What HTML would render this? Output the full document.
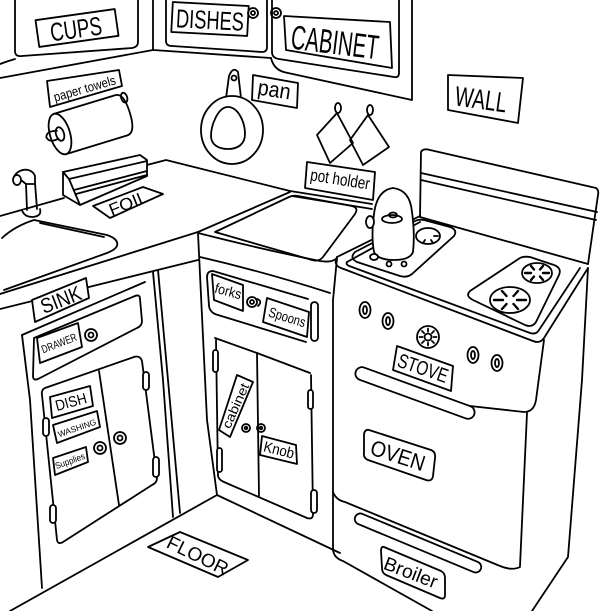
<!DOCTYPE html>
<html><head><meta charset="utf-8"><style>
html,body{margin:0;padding:0;background:#fff;}
svg{display:block;}
text{font-family:"Liberation Sans",sans-serif;fill:#000;stroke:none;}
</style></head><body>
<svg width="600" height="611" viewBox="0 0 600 611" xmlns="http://www.w3.org/2000/svg">
<rect width="600" height="611" fill="#fff"/>
<g fill="none" stroke="#000" stroke-width="1.8" stroke-linecap="round" stroke-linejoin="round">

<!-- wall cabinets -->
<path d="M15,0 L15,51 Q15,57 22,56 L132,48 Q138,47 138,42 L138,0"/>
<path d="M0,64 Q8,61 15,59"/>
<path d="M0,78 L153,50"/>
<path d="M153,0 L153,50"/>
<path d="M166,0 L166,41 Q166,46 172,46 L262,52 Q267,52 267,47 L267,0"/>
<path d="M153,50 L271,58"/>
<path d="M272,0 L272,52 Q272,58 279,59 L394,77 Q399,78 399,73 L399,0"/>
<path d="M271,58 Q274,71 288,73 L412,100 L412,0"/>
<circle cx="253" cy="13" r="5"/><circle cx="253" cy="13" r="2"/>
<circle cx="276" cy="13" r="5"/><circle cx="276" cy="13" r="2"/>

<!-- labels top -->
<rect x="-40" y="-13.5" width="80" height="27" transform="translate(77,28) rotate(-8)"/>
<rect x="-38" y="-15" width="76" height="30" transform="translate(210,19) rotate(3)"/>
<path d="M284,16 L390,22 L392,68 L286,50 Z"/>
<path d="M448,75 L523,78 L518,123 L448,110 Z"/>
<path d="M253,75 L298,83 L297,108 L252,100 Z"/>
<path d="M47,81 L119,70 L122,86 L50,107 Z"/>
<path d="M307,162 L375,172 L373,200 L305,188 Z" fill="#fff"/>

<!-- pot holders -->
<path d="M337,113 L317,135 L330,163 L353,143 Z"/>
<path d="M368,115 L350,140 L363,165 L389,147 Z"/>
<ellipse cx="338" cy="108" rx="3" ry="5"/>
<ellipse cx="370" cy="110" rx="3" ry="5"/>

<!-- pan -->
<path d="M226,98 L229,76 Q233,66 238,72 L241,98"/>
<circle cx="234" cy="78" r="2.5"/>
<ellipse cx="232" cy="130" rx="31" ry="34" fill="#fff"/>
<path d="M228,107 C218,107 211,125 211,136 C211,145 219,149 228,149 C238,149 245,144 245,134 C245,122 238,107 228,107 Z"/>

<!-- paper towel roll -->
<g transform="translate(60,134) rotate(-17)">
<path d="M0,-21 L64,-21 Q73,-21 73,0 Q73,21 64,21 L0,21" fill="#fff"/>
<ellipse cx="0" cy="0" rx="10" ry="21" fill="#fff"/>
<ellipse cx="0" cy="0" rx="4" ry="7"/>
<path d="M-2,-4 Q-12,-7 -14,-1 Q-13,6 -3,4"/>
<ellipse cx="72" cy="-16" rx="3" ry="5"/>
</g>

<!-- counter back lines -->
<path d="M0,216 L64,198"/>
<path d="M147,165 L166,160 L290,191 L372,204"/>
<path d="M292,196 L372,209"/>

<!-- sink -->
<path d="M2,238 Q15,226 34,220 L107,235 Q119,239 117,246 Q115,250 107,253 L4,290"/>
<path d="M40,223 L104,237"/>
<!-- faucet -->
<path d="M22,210 Q24,217 33,217 Q42,216 40,209" fill="#fff"/>
<path d="M26,184 L27,210 M35,183 L37,209"/>
<path d="M14,177 C17,169 31,166 35,176 L35,184 L26,184 L21,180"/>
<ellipse cx="17" cy="180" rx="4" ry="5" fill="#fff"/>

<!-- foil box -->
<path d="M63,172 L140,155 L147,160 L147,176 L80,205 L63,195 Z" fill="#fff"/>
<path d="M63,172 L69,179 L80,205"/>
<path d="M69,179 L147,161"/>
<path d="M74,190 L147,171 M76,194 L147,175"/>
<path d="M93,206 L143,187 L163,194 L110,218 Z"/>

<!-- counter front -->
<path d="M0,294 L198,232"/>
<path d="M0,309 L198,260"/>
<path d="M32,300 L86,278 L89,298 L35,322 Z" fill="#fff"/>

<!-- left cabinet -->
<path d="M22,335 L145,282"/>
<path d="M22,335 L30,400 L42,588"/>
<path d="M34,338 L135,296 Q140,294 140,299 L142,321 Q142,326 137,328 L38,379 Q33,381 33,376 Z"/>
<path d="M37,338 L78,323 L82,347 L40,363 Z"/>
<circle cx="91" cy="335" r="6"/><circle cx="91" cy="335" r="2.5"/>
<path d="M45,388 L134,357 Q140,355 142,361 L157,478 Q157,483 152,485 L63,542 Q58,545 57,540 L42,395 Q41,390 45,388 Z"/>
<path d="M99,371 L119,505"/>
<circle cx="100" cy="448" r="6"/><circle cx="100" cy="448" r="2.5"/>
<circle cx="120" cy="438" r="6"/><circle cx="120" cy="438" r="2.5"/>
<rect x="43" y="418" width="6" height="18" rx="3" fill="#fff"/>
<rect x="50" y="505" width="6" height="18" rx="3" fill="#fff"/>
<rect x="153" y="457" width="6" height="20" rx="3" fill="#fff"/>
<rect x="143" y="372" width="6" height="18" rx="3" fill="#fff"/>
<path d="M50,397 L90,386 L93,406 L52,418 Z"/>
<path d="M53,425 L97,411 L100,427 L57,443 Z"/>
<path d="M53,458 L86,447 L88,462 L55,475 Z"/>
<path d="M153,272 L163,380 L173,517"/>
<path d="M158,270 L168,380 L180,513"/>

<!-- middle cabinet -->
<path d="M198,232 L290,192"/>
<path d="M198,233 Q265,250 320,261 Q332,263 337,258"/>
<path d="M215,232 L289,197 Q293,195 298,196 L352,206 Q359,208 355,214 L323,257 Q319,262 312,260 Z"/>
<path d="M198,233 L207,420 L217,495"/>
<path d="M200,257 Q265,272 330,293"/>
<path d="M213,271 Q207,271 207,277 L209,306 Q210,313 218,315 L306,342"/>
<path d="M213,271 L308,299"/>
<path d="M212,274 L243,285 L243,311 L214,300 Z"/>
<circle cx="252" cy="302" r="5"/><circle cx="252" cy="302" r="2"/>
<path d="M257,299 Q263,301 258,306"/>
<path d="M267,298 L309,312 L307,337 L263,322 Z"/>
<rect x="311" y="302" width="7" height="39" rx="3.5"/>
<path d="M215,338 L257,353 L310,373"/>
<path d="M216,340 L218,476 Q219,480 224,482 L307,518 Q313,520 313,514 L311,375"/>
<path d="M257,353 L259,496"/>
<rect x="213" y="350" width="5" height="22" rx="2.5" fill="#fff"/>
<rect x="217" y="448" width="5" height="24" rx="2.5" fill="#fff"/>
<rect x="308" y="390" width="5" height="19" rx="2.5" fill="#fff"/>
<rect x="311" y="490" width="6" height="23" rx="3" fill="#fff"/>
<path d="M237,375 L253,382 L230,437 L219,430 Z" fill="#fff"/>
<circle cx="246" cy="428" r="4"/><circle cx="246" cy="428" r="1.3"/>
<circle cx="261" cy="428" r="4"/><circle cx="261" cy="428" r="1.3"/>
<path d="M262,436 L296,445 L297,464 L260,455 Z"/>

<!-- floor -->
<path d="M10,611 L217,495 L340,553"/>
<path d="M148,547 L180,532 L248,560 L218,577 Z"/>

<!-- stove backsplash -->
<path d="M420,217 L421,152 Q423,148 430,150 L596,188 Q599,190 598,195 L588,264"/>
<path d="M421,173 L597,212"/>
<path d="M421,180 L596,220"/>
<path d="M420,217 L588,264"/>

<!-- stove top -->
<path d="M337,257 L420,216"/>
<path d="M347,262 L420,222"/>
<path d="M347,262 Q345,265 352,267 L530,333 Q536,335 539,330 L580,268"/>
<path d="M337,257 Q333,265 341,268 L533,341 Q540,344 544,338 L588,268"/>
<path d="M355,252 L415,221 Q419,219 424,220 L450,227 Q458,230 454,236 L412,274 Q407,278 400,276 L357,262 Q349,258 355,252 Z"/>
<ellipse cx="428" cy="236" rx="12" ry="8"/>
<path d="M434,236 L438,236 M431,240 L433,243 M425,240 L423,243"/>
<path d="M470,291 L520,258 Q524,256 530,257 L554,265 Q562,268 559,275 L536,322 Q532,328 525,325 L473,300 Q465,296 470,291 Z"/>
<ellipse cx="537" cy="273" rx="15" ry="10"/>
<path d="M543,273 L549,273 M540,276.5 L543,280 M534,276.5 L531,280 M531,273 L525,273 M534,269.5 L531,266 M540,269.5 L543,266" stroke-width="2.4"/>
<ellipse cx="510" cy="300" rx="20" ry="13"/>
<path d="M517,300 L526,300 M513.5,304 L518,309 M506.5,304 L502,309 M503,300 L494,300 M506.5,296 L502,291 M513.5,296 L518,291" stroke-width="2.4"/>

<!-- kettle -->
<path d="M374,214 Q371,236 374,252 Q378,260 394,260 Q410,260 413,252 Q415,234 412,212 Q410,190 393,188 Q377,190 374,214 Z" fill="#fff"/>
<ellipse cx="392" cy="219" rx="10" ry="4"/>
<ellipse cx="393" cy="215" rx="4" ry="2.5"/>
<ellipse cx="370" cy="222" rx="4" ry="6" fill="#fff"/>
<ellipse cx="374" cy="257" rx="4" ry="3" fill="#fff"/>
<circle cx="389" cy="264" r="2.5"/><circle cx="404" cy="264" r="2.5"/>

<!-- stove front -->
<path d="M337,258 L333,300 L333,550 Q334,558 343,561 L432,611"/>
<path d="M588,268 L582,380 L568,557 L532,611"/>
<path d="M544,340 L536,400 Q534,412 524,412 L470,406"/>
<path d="M527,413 L520,566"/>
<path d="M333,492 Q336,500 345,502 L500,566 Q512,571 520,567"/>
<ellipse cx="365" cy="310" rx="5.5" ry="8"/><ellipse cx="365" cy="310" rx="2" ry="4"/>
<ellipse cx="388" cy="321" rx="5.5" ry="8"/><ellipse cx="388" cy="321" rx="2" ry="4"/>
<ellipse cx="473" cy="355" rx="5.5" ry="8"/><ellipse cx="473" cy="355" rx="2" ry="4"/>
<ellipse cx="497" cy="363" rx="5.5" ry="8"/><ellipse cx="497" cy="363" rx="2" ry="4"/>
<circle cx="428" cy="337" r="11"/><circle cx="428" cy="337" r="3.5"/>
<path d="M433.5,337 L436.5,337 M431.9,340.9 L434,343 M428,342.5 L428,345.5 M424.1,340.9 L422,343 M422.5,337 L419.5,337 M424.1,333.1 L422,331 M428,331.5 L428,328.5 M431.9,333.1 L434,331"/>
<path d="M397,346 L453,366 L451,391 L393,370 Z"/>
<rect x="-63" y="-6.5" width="126" height="13" rx="6.5" transform="translate(415,393) rotate(20)" fill="#fff"/>
<path d="M369,430 L431,450 Q436,452 435,458 L433,476 Q432,482 426,480 L368,460 Q363,458 364,452 L364,434 Q365,429 369,430 Z"/>
<rect x="-68" y="-5.5" width="136" height="11" rx="5.5" transform="translate(418,543) rotate(22.6)"/>
<path d="M384,547 L441,571 Q445,573 445,578 L445,595 Q445,600 440,598 L386,575 Q382,573 382,568 L381,551 Q381,546 384,547 Z"/>
</g>

<!-- text -->
<g>
<text transform="translate(76,29) rotate(-8)" x="0" y="9" font-size="26" text-anchor="middle" textLength="52" lengthAdjust="spacingAndGlyphs">CUPS</text>
<text transform="translate(210,20) rotate(3)" x="0" y="9" font-size="26" text-anchor="middle" textLength="68" lengthAdjust="spacingAndGlyphs">DISHES</text>
<text transform="translate(335,42) rotate(7)" x="0" y="12" font-size="34" text-anchor="middle" textLength="88" lengthAdjust="spacingAndGlyphs">CABINET</text>
<text transform="translate(481,99) rotate(8)" x="0" y="10" font-size="28" text-anchor="middle" textLength="52" lengthAdjust="spacingAndGlyphs">WALL</text>
<text transform="translate(274,92) rotate(9)" x="0" y="5" font-size="22" text-anchor="middle" textLength="33" lengthAdjust="spacingAndGlyphs">pan</text>
<text transform="translate(85,90) rotate(-16)" x="0" y="3" font-size="13" text-anchor="middle" textLength="64" lengthAdjust="spacingAndGlyphs">paper towels</text>
<text transform="translate(340,180) rotate(9)" x="0" y="5" font-size="17" text-anchor="middle" textLength="60" lengthAdjust="spacingAndGlyphs">pot holder</text>
<text transform="translate(128,203) rotate(-22)" x="0" y="6" font-size="17" text-anchor="middle" textLength="40" lengthAdjust="spacingAndGlyphs">FOIL</text>
<text transform="translate(61,300) rotate(-21)" x="0" y="7" font-size="21" text-anchor="middle" textLength="42" lengthAdjust="spacingAndGlyphs">SINK</text>
<text transform="translate(59,343) rotate(-21)" x="0" y="4" font-size="11" text-anchor="middle" textLength="37" lengthAdjust="spacingAndGlyphs">DRAWER</text>
<text transform="translate(71,402) rotate(-15)" x="0" y="5" font-size="15" text-anchor="middle" textLength="32" lengthAdjust="spacingAndGlyphs">DISH</text>
<text transform="translate(77,428) rotate(-19)" x="0" y="3" font-size="8.5" text-anchor="middle" textLength="40" lengthAdjust="spacingAndGlyphs">WASHING</text>
<text transform="translate(70,461) rotate(-20)" x="0" y="3" font-size="9" text-anchor="middle" textLength="31" lengthAdjust="spacingAndGlyphs">Supplies</text>
<text transform="translate(228,292) rotate(15)" x="0" y="4" font-size="14" text-anchor="middle" textLength="27" lengthAdjust="spacingAndGlyphs">forks</text>
<text transform="translate(287,318) rotate(17)" x="0" y="4" font-size="14" text-anchor="middle" textLength="38" lengthAdjust="spacingAndGlyphs">Spoons</text>
<text transform="translate(236,406) rotate(-66)" x="0" y="4" font-size="13" text-anchor="middle" textLength="48" lengthAdjust="spacingAndGlyphs">cabinet</text>
<text transform="translate(279,450) rotate(14)" x="0" y="5" font-size="15" text-anchor="middle" textLength="31" lengthAdjust="spacingAndGlyphs">Knob</text>
<text transform="translate(423,368) rotate(19)" x="0" y="7" font-size="20" text-anchor="middle" textLength="52" lengthAdjust="spacingAndGlyphs">STOVE</text>
<text transform="translate(398,455) rotate(18)" x="0" y="8" font-size="22" text-anchor="middle" textLength="56" lengthAdjust="spacingAndGlyphs">OVEN</text>
<text transform="translate(411,572) rotate(21)" x="0" y="7" font-size="19" text-anchor="middle" textLength="56" lengthAdjust="spacingAndGlyphs">Broiler</text>
<text transform="translate(198,555) rotate(26)" x="0" y="7" font-size="19" text-anchor="middle" textLength="66" lengthAdjust="spacingAndGlyphs">FLOOR</text>
</g>
</svg>
</body></html>
